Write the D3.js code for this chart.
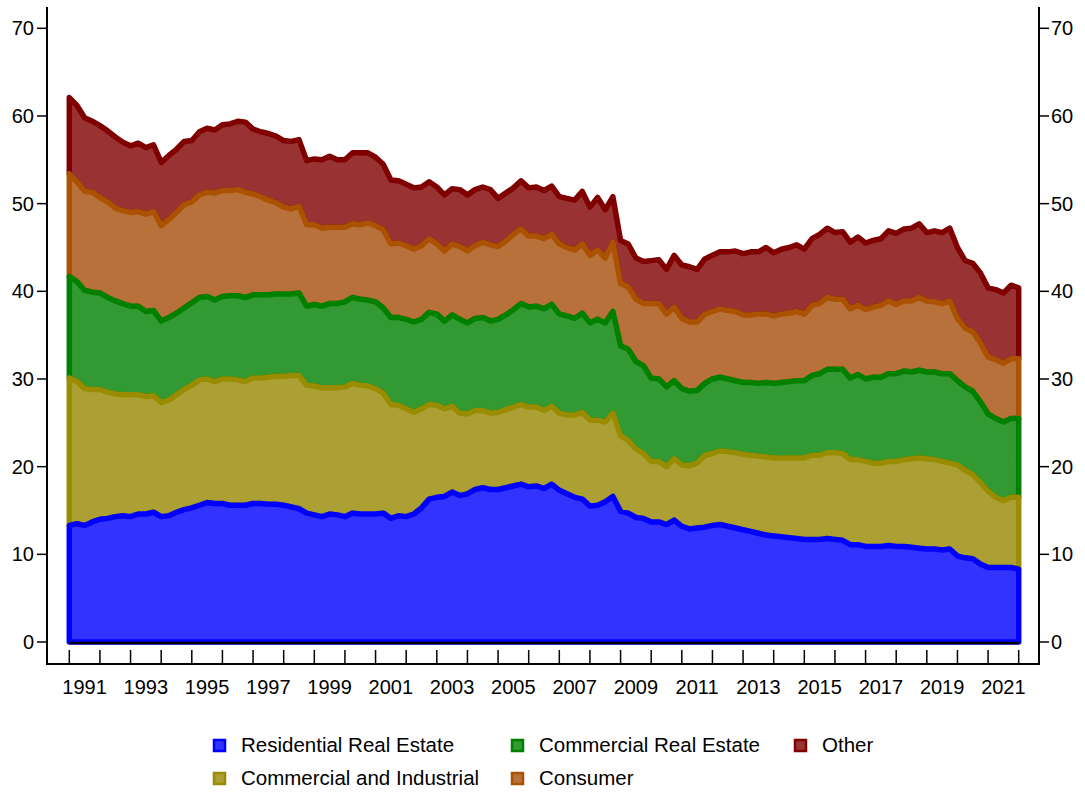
<!DOCTYPE html>
<html>
<head>
<meta charset="utf-8">
<title>Loan composition</title>
<script src="https://cdn.jsdelivr.net/npm/d3@7"></script>
<style>
  body { margin: 0; background: #fff; }
  text { font-family: "Liberation Sans", Arial, sans-serif; fill: #000; }
</style>
</head>
<body>
<svg id="chart" width="1085" height="795"></svg>
<script>
// quarterly shares, 1991Q1 .. 2022Q1 (one row per year)
var startYear = 1991;

var residential = [
  13.3,13.5,13.3,13.7, 14.0,14.1,14.3,14.4, 14.3,14.6,14.6,14.8, 14.3,14.4,14.8,15.1,
  15.3,15.6,15.9,15.8, 15.8,15.6,15.6,15.6, 15.8,15.8,15.7,15.7, 15.6,15.4,15.2,14.7,
  14.5,14.3,14.6,14.5, 14.3,14.7,14.6,14.6, 14.6,14.7,14.1,14.4, 14.3,14.6,15.3,16.3,
  16.5,16.6,17.1,16.7, 16.9,17.4,17.6,17.4, 17.4,17.6,17.8,18.0, 17.7,17.8,17.5,18.0,
  17.3,16.9,16.5,16.3, 15.5,15.6,16.0,16.6, 14.9,14.7,14.2,14.1, 13.7,13.7,13.4,13.9,
  13.2,12.9,13.0,13.1, 13.3,13.4,13.2,13.0, 12.8,12.6,12.4,12.2, 12.1,12.0,11.9,11.8,
  11.7,11.7,11.7,11.8, 11.7,11.6,11.1,11.1, 10.9,10.9,10.9,11.0, 10.9,10.9,10.8,10.7,
  10.6,10.6,10.5,10.6, 9.8,9.6,9.5,8.9, 8.5,8.5,8.5,8.5, 8.3
];
var commercialIndustrial = [
  16.8,16.2,15.6,15.1, 14.8,14.4,14.0,13.8, 13.9,13.6,13.4,13.3, 13.0,13.2,13.4,13.7,
  14.0,14.3,14.1,13.9, 14.2,14.4,14.3,14.1, 14.3,14.3,14.5,14.6, 14.7,15.0,15.2,14.6,
  14.7,14.7,14.4,14.5, 14.8,14.8,14.7,14.6, 14.3,13.7,13.0,12.6, 12.3,11.6,11.3,10.8,
  10.5,10.0,9.8,9.4, 9.1,9.0,8.8,8.7, 8.8,8.9,9.0,9.1, 9.1,9.0,8.9,8.9,
  8.8,9.0,9.4,9.9, 9.8,9.7,9.1,9.5, 8.6,8.3,7.8,7.4, 6.9,6.9,6.6,7.0,
  7.0,7.2,7.4,8.2, 8.2,8.4,8.5,8.6, 8.6,8.7,8.8,8.9, 8.9,9.0,9.1,9.2,
  9.3,9.6,9.6,9.8, 9.9,9.9,9.7,9.7, 9.7,9.5,9.5,9.6, 9.7,9.9,10.1,10.3,
  10.3,10.2,10.1,9.8, 10.4,10.0,9.6,9.3, 8.7,8.0,7.6,8.0, 8.2
];
var commercialRealEstate = [
  11.6,11.4,11.2,11.1, 11.0,10.8,10.6,10.4, 10.1,10.1,9.7,9.7, 9.3,9.4,9.3,9.3,
  9.4,9.4,9.4,9.3, 9.4,9.5,9.6,9.6, 9.5,9.5,9.4,9.4, 9.4,9.3,9.4,9.0,
  9.3,9.3,9.6,9.6, 9.7,9.8,9.8,9.8, 9.9,9.7,9.9,10.0, 10.2,10.3,10.2,10.5,
  10.4,10.0,10.4,10.7, 10.4,10.5,10.6,10.5, 10.6,10.8,11.1,11.5, 11.4,11.5,11.6,11.6,
  11.3,11.3,11.0,11.3, 11.1,11.5,11.3,11.6, 10.3,10.4,10.0,10.0, 9.5,9.4,9.1,8.9,
  8.7,8.5,8.3,8.2, 8.5,8.4,8.3,8.2, 8.2,8.3,8.3,8.5, 8.5,8.6,8.7,8.8,
  8.8,9.1,9.3,9.5, 9.5,9.6,9.3,9.7, 9.4,9.8,9.8,10.0, 10.0,10.1,9.9,10.0,
  9.9,10.0,10.0,10.2, 9.6,9.5,9.5,9.2, 8.8,9.0,9.0,9.0, 9.0
];
var consumer = [
  11.7,11.4,11.3,11.4, 10.9,10.9,10.6,10.6, 10.7,10.8,11.1,11.3, 10.9,11.2,11.5,11.8,
  11.5,11.7,11.9,12.2, 12.1,12.0,12.1,12.0, 11.5,11.2,10.8,10.4, 9.9,9.7,9.9,9.3,
  9.1,8.9,8.7,8.7, 8.5,8.4,8.5,8.8, 8.7,8.9,8.4,8.5, 8.4,8.3,8.4,8.4,
  8.0,8.0,8.1,8.3, 8.2,8.3,8.6,8.7, 8.3,8.4,8.6,8.5, 8.1,8.0,8.0,8.0,
  8.0,7.8,7.8,7.9, 7.7,7.9,7.4,7.9, 7.1,7.1,7.1,7.1, 8.5,8.6,8.3,8.4,
  8.0,7.9,7.8,7.9, 7.7,7.8,7.8,7.9, 7.7,7.7,7.9,7.8, 7.7,7.8,7.8,7.9,
  7.6,8.0,8.0,8.2, 8.0,8.0,7.9,7.9, 7.9,8.0,8.2,8.3, 7.9,8.0,8.1,8.3,
  8.1,8.0,8.0,8.3, 7.1,6.7,6.8,6.7, 6.5,6.7,6.7,6.8, 6.8
];
var other = [
  8.7,8.7,8.4,8.1, 8.2,8.1,8.1,7.8, 7.6,7.8,7.6,7.6, 7.2,7.3,7.2,7.2,
  7.0,7.2,7.3,7.2, 7.5,7.6,7.8,8.0, 7.4,7.4,7.6,7.6, 7.6,7.7,7.6,7.3,
  7.5,7.8,8.1,7.7, 7.7,8.1,8.2,8.0, 7.8,7.5,7.3,7.1, 7.0,7.0,6.7,6.5,
  6.5,6.4,6.3,6.5, 6.4,6.4,6.3,6.3, 5.5,5.5,5.3,5.5, 5.5,5.6,5.5,5.5,
  5.4,5.6,5.7,6.0, 5.5,6.0,5.5,5.2, 4.9,4.9,4.7,4.8, 4.9,5.0,5.1,5.9,
  6.1,6.3,6.0,6.3, 6.4,6.5,6.7,6.9, 7.0,7.2,7.1,7.6, 7.2,7.4,7.5,7.6,
  7.4,7.6,7.9,7.9, 7.6,7.7,7.6,7.8, 7.6,7.6,7.6,8.0, 8.1,8.2,8.3,8.4,
  7.8,8.1,8.1,8.3, 8.1,7.7,7.8,8.0, 7.9,8.0,8.0,8.4, 8.1
];

var seriesNames = ['Residential Real Estate', 'Commercial and Industrial',
                   'Commercial Real Estate', 'Consumer', 'Other'];
var seriesValues = [residential, commercialIndustrial, commercialRealEstate, consumer, other];
var fillColors = ['#3333ff', '#aca034', '#339933', '#b9713b', '#993333'];
var lineColors = ['#0000ff', '#998c00', '#008000', '#ab5200', '#800000'];

var yTicks = [0, 10, 20, 30, 40, 50, 60, 70];
var yearLabels = [1991, 1993, 1995, 1997, 1999, 2001, 2003, 2005, 2007, 2009,
                  2011, 2013, 2015, 2017, 2019, 2021];

//----------------------------
var svg = d3.select('#chart');

var frame = { left: 47, right: 1039, top: 7, bottom: 664 };

var x = d3.scaleLinear().domain([1991, 2022]).range([69.3, 1018.7]);
var y = d3.scaleLinear().domain([0, 70]).range([642, 28.3]);

// rows for d3.stack
var rows = residential.map(function (d, i) {
  var row = { t: startYear + i / 4 };
  seriesNames.forEach(function (name, k) { row[name] = seriesValues[k][i]; });
  return row;
});

var layers = d3.stack().keys(seriesNames)(rows);

var area = d3.area()
  .x(function (d) { return x(d.data.t); })
  .y0(function (d) { return y(d[0]); })
  .y1(function (d) { return y(d[1]); });

// top layer first so each lower layer's top edge stays on top
svg.append('g')
  .selectAll('path')
  .data(layers.slice().reverse())
  .enter()
  .append('path')
  .attr('d', area)
  .attr('fill', function (d) { return fillColors[d.index]; })
  .attr('stroke', function (d) { return lineColors[d.index]; })
  .attr('stroke-width', 5.5)
  .attr('stroke-linejoin', 'round');

// zero line
svg.append('line')
  .attr('x1', x(rows[0].t)).attr('x2', x(rows[rows.length - 1].t))
  .attr('y1', y(0) + 1).attr('y2', y(0) + 1)
  .attr('stroke', '#000').attr('stroke-width', 2.5);

// frame
var axisG = svg.append('g').attr('stroke', '#000').attr('stroke-width', 2);
axisG.append('line').attr('x1', frame.left).attr('x2', frame.left)
  .attr('y1', frame.top).attr('y2', frame.bottom + 1);
axisG.append('line').attr('x1', frame.right).attr('x2', frame.right)
  .attr('y1', frame.top).attr('y2', frame.bottom + 1);
axisG.append('line').attr('x1', frame.left - 1).attr('x2', frame.right + 1)
  .attr('y1', frame.bottom).attr('y2', frame.bottom);

// y ticks, both sides
yTicks.forEach(function (v) {
  var yy = y(v);
  axisG.append('line').attr('x1', frame.left - 10).attr('x2', frame.left)
    .attr('y1', yy).attr('y2', yy).attr('stroke-width', 1.5);
  axisG.append('line').attr('x1', frame.right).attr('x2', frame.right + 10)
    .attr('y1', yy).attr('y2', yy).attr('stroke-width', 1.5);
  svg.append('text').attr('x', frame.left - 13).attr('y', yy).attr('dy', '0.35em')
    .attr('text-anchor', 'end').attr('font-size', 20).text(v);
  svg.append('text').attr('x', frame.right + 12).attr('y', yy).attr('dy', '0.35em')
    .attr('text-anchor', 'start').attr('font-size', 20).text(v);
});

// x ticks at each year start, labels centred in the year
d3.range(1991, 2023).forEach(function (yr) {
  axisG.append('line').attr('x1', x(yr)).attr('x2', x(yr))
    .attr('y1', frame.bottom - 14).attr('y2', frame.bottom).attr('stroke-width', 1.5);
});
svg.append('g')
  .selectAll('text')
  .data(yearLabels)
  .enter()
  .append('text')
  .attr('x', function (d) { return x(d + 0.5); })
  .attr('y', 694)
  .attr('text-anchor', 'middle')
  .attr('font-size', 20)
  .text(function (d) { return d; });

// legend
var legendPos = [
  { x: 213, y: 745 }, { x: 213, y: 778 },
  { x: 511, y: 745 }, { x: 511, y: 778 },
  { x: 794, y: 745 }
];
var legend = svg.append('g')
  .selectAll('g')
  .data(seriesNames)
  .enter()
  .append('g')
  .attr('transform', function (d, i) { return 'translate(' + legendPos[i].x + ',' + legendPos[i].y + ')'; });

legend.append('rect')
  .attr('x', 1).attr('y', -5).attr('width', 11).attr('height', 11)
  .attr('fill', function (d, i) { return fillColors[i]; })
  .attr('stroke', function (d, i) { return lineColors[i]; })
  .attr('stroke-width', 2.5);

legend.append('text')
  .attr('x', 28).attr('y', 0).attr('dy', '0.35em')
  .attr('font-size', 20.5)
  .text(function (d) { return d; });
</script>
</body>
</html>
